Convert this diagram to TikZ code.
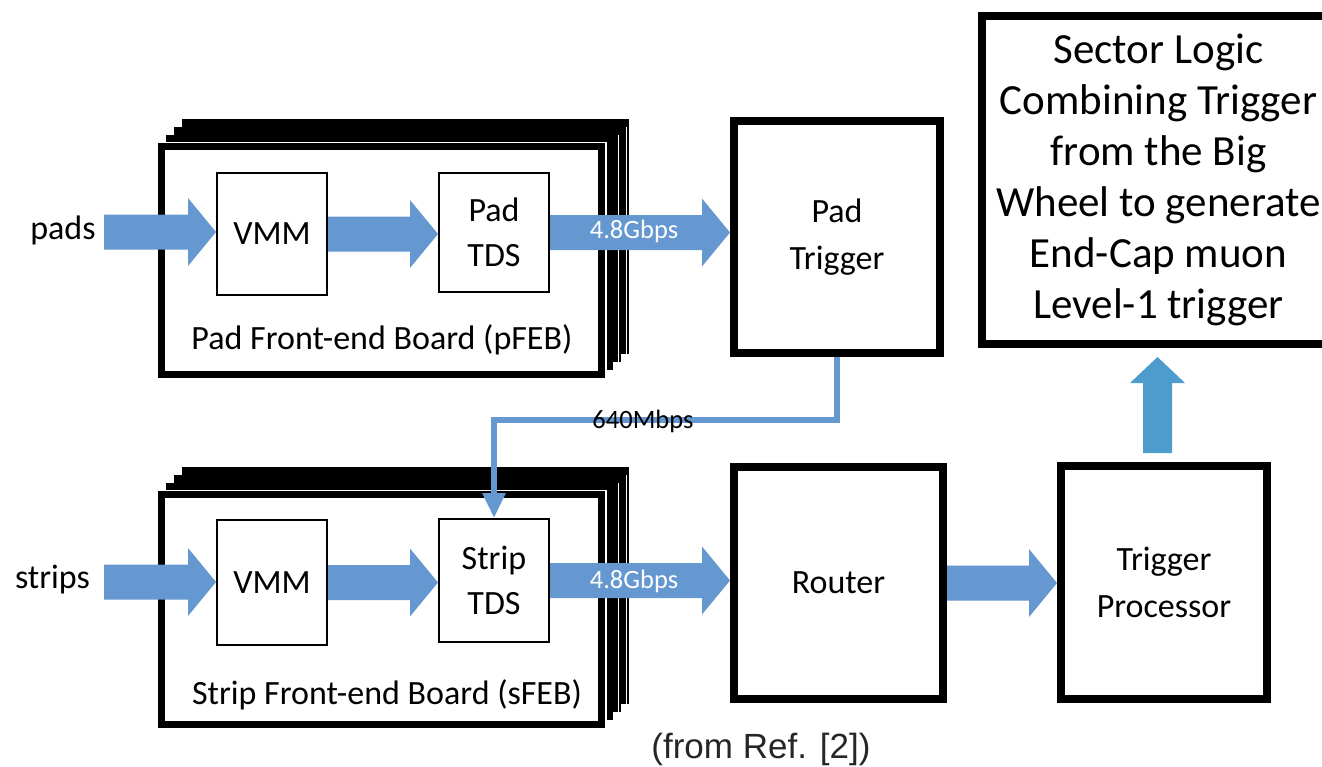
\documentclass[tikz,border=0pt]{standalone}
\usepackage{fontspec}
\setmainfont{Carlito}
\newfontfamily\capfont{Liberation Sans}
\usetikzlibrary{arrows.meta,calc,backgrounds}
\definecolor{ablue}{RGB}{101,151,208}
\definecolor{ublue}{RGB}{78,155,206}
\newcommand\blkarrow[2]{%
  \fill[ablue] let \p1=(#1), \p2=(#2) in
   (\x1,\y1+17.5pt) -- (\x2-28pt,\y1+17.5pt) -- (\x2-28pt,\y1+34pt) -- (\x2,\y1)
   -- (\x2-28pt,\y1-34pt) -- (\x2-28pt,\y1-17.5pt) -- (\x1,\y1-17.5pt) -- cycle;}
\newcommand\febstack[1]{%
  \begin{scope}[on background layer]
  \foreach \k in {3,2,1}{
    \filldraw[black, line width=7pt] ($(#1.south west)+(8*\k,-8*\k)$) rectangle ($(#1.north east)+(8*\k,-8*\k)$);
  }
  \draw[white, line width=1pt] ($(#1.south east)+(17,-12)$) -- ($(#1.north east)+(17,-12)$);
  \draw[white, line width=1pt] ($(#1.south east)+(25,-20)$) -- ($(#1.north east)+(25,-20)$);
  \draw[white, line width=10pt] (#1.south west) rectangle (#1.north east);
  \end{scope}}
\begin{document}
\begin{tikzpicture}[x=1pt,y=-1pt,
  box/.style={draw, line width=2pt, minimum width=110pt, inner sep=0pt, align=center, font=\fontsize{34}{45}\selectfont},
  bigbox/.style={draw, line width=8pt, inner sep=0pt, align=center, font=\fontsize{34}{47}\selectfont},
  feb/.style={draw, line width=7pt, fill=white, inner sep=0pt, outer sep=0pt, minimum width=440pt},
  lbl/.style={inner sep=0pt, font=\fontsize{34}{40}\selectfont},
  rate/.style={inner sep=0pt, font=\fontsize{26.5}{30}\selectfont},
]
\useasboundingbox (0,0) rectangle (1322,766);
\clip (0,0) rectangle (1322,766);

% front-end boards
\node[feb, minimum height=228pt] (pfeb) at (381.5,260.5) {};
\febstack{pfeb}
\node[feb, minimum height=230pt] (sfeb) at (381.5,609.5) {};
\febstack{sfeb}

% inner boxes
\node[box, minimum height=122pt] (pvmm) at (272,234) {VMM};
\node[box, minimum height=119pt] (ptds) at (494,232.5) {Pad\\TDS};
\node[box, minimum height=125pt] (svmm) at (272,582.5) {VMM};
\node[box, minimum height=123pt] (stds) at (494,580.5) {Strip\\TDS};

\node[lbl] (plbl) at (382,340) {Pad Front-end Board (pFEB)};
\node[lbl] (slbl) at (387,695) {Strip Front-end Board (sFEB)};

% big boxes
\node[bigbox, minimum width=206pt, minimum height=232pt] (pt) at (837,237) {Pad\\Trigger};
\node[bigbox, minimum width=209pt, minimum height=232pt] (router) at (838.5,583) {Router};
\node[bigbox, minimum width=206pt, minimum height=233pt] (tp) at (1164,582.5) {Trigger\\Processor};
\node[bigbox, minimum width=353pt, minimum height=328pt, font=\fontsize{43}{51}\selectfont] (sl) at (1158.5,180)
  {Sector Logic\\Combining Trigger\\from the Big\\Wheel to generate\\End-Cap muon\\Level-1 trigger};

% inputs
\node[lbl] (pads) at (63,230) {pads};
\node[lbl] (strips) at (52.5,580) {strips};
\coordinate (padsin) at (104,232);
\coordinate (stripsin) at (104,582);

% block arrows
\blkarrow{padsin}{pvmm.west}
\blkarrow{pvmm.east}{ptds.west}
\blkarrow{ptds.east}{pt.west}
\blkarrow{stripsin}{svmm.west}
\blkarrow{svmm.east}{stds.west}
\blkarrow{stds.east}{router.west}
\blkarrow{router.east}{tp.west}

% up arrow
\coordinate (upS) at (1157.5,453);
\coordinate (upE) at (1157.5,357);
\fill[ublue] let \p1=(upS), \p2=(upE) in
  (\x1-14.5pt,\y1) -- (\x1-14.5pt,\y2-26pt) -- (\x1-27.5pt,\y2-26pt) -- (\x1,\y2)
  -- (\x1+27.5pt,\y2-26pt) -- (\x1+14.5pt,\y2-26pt) -- (\x1+14.5pt,\y1) -- cycle;

% 640 Mbps link
\coordinate (bend) at (494,420);
\draw[ablue, line width=6pt, -{Triangle[width=22pt,length=25pt]}] (pt.south) |- (bend) -- (stds.north);

% rate labels
\node[rate, text=white] (r1) at (634,231) {4.8Gbps};
\node[rate, text=white] (r2) at (634,581) {4.8Gbps};
\node[rate] (r3) at (643,421) {640Mbps};

% caption
\node[inner sep=0pt, font=\capfont\fontsize{35}{40}\selectfont, text=black!85] (cap) at (761,749) {(from Ref. [2])};
\end{tikzpicture}
\end{document}
